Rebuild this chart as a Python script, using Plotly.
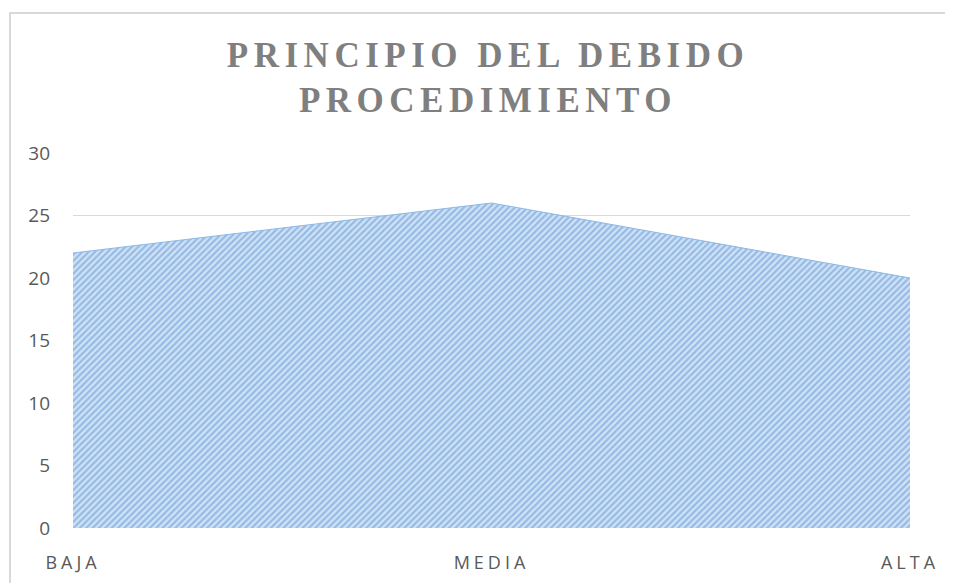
import plotly.graph_objects as go

categories = ["BAJA", "MEDIA", "ALTA"]
values = [22, 26, 20]
y_ticks = [0, 5, 10, 15, 20, 25, 30]
title_lines = ["PRINCIPIO DEL DEBIDO", "PROCEDIMIENTO"]

def spaced(s, px):
    return "<span style='letter-spacing:%spx'>%s</span>" % (px, s)

title_text = "<br>".join(spaced(t, 5.5) for t in title_lines)

fig = go.Figure()
fig.add_trace(go.Scatter(
    x=list(range(len(categories))),
    y=values,
    mode="lines",
    fill="tozeroy",
    line=dict(color="#8ab8e6", width=1),
    fillpattern=dict(shape="/", fgcolor="#5f8fcf", bgcolor="#cfe3f7",
                     size=4.5, solidity=0.5),
    hoverinfo="skip",
    showlegend=False,
))

# page body adds ~8px offset; compensate
fig.update_layout(
    width=945, height=575,
    paper_bgcolor="white", plot_bgcolor="white",
    margin=dict(l=65, r=43, t=145, b=55, autoexpand=False),
    title=dict(text=title_text, x=(488 - 8) / 945, xanchor="center", y=0.898,
               yanchor="top",
               font=dict(family="Liberation Serif", size=35, color="#7f7f7f", weight="bold")),
    xaxis=dict(
        range=[0, 2], tickmode="array", tickvals=list(range(len(categories))),
        ticktext=[spaced(c, 4) for c in categories], showgrid=False, zeroline=False,
        showline=False, automargin=False,
        tickfont=dict(family="Open Sans", size=18, color="#595959"),
        ticks="", ticklabelstandoff=22,
    ),
    yaxis=dict(
        range=[0, 30], tickmode="array", tickvals=y_ticks,
        showgrid=True, gridcolor="#d9d9d9", gridwidth=1, zeroline=False,
        showline=False, ticks="", automargin=False,
        tickfont=dict(family="Open Sans", size=19, color="#595959"),
        ticklabelstandoff=22,
    ),
    shapes=[dict(type="rect", xref="paper", yref="paper",
                 x0=(10 - 73) / 837, x1=(949 - 73) / 837,
                 y0=-0.3, y1=1 + 140 / 375,
                 line=dict(color="#d9d9d9", width=2), layer="below")],
)

fig.write_html("out.html")
